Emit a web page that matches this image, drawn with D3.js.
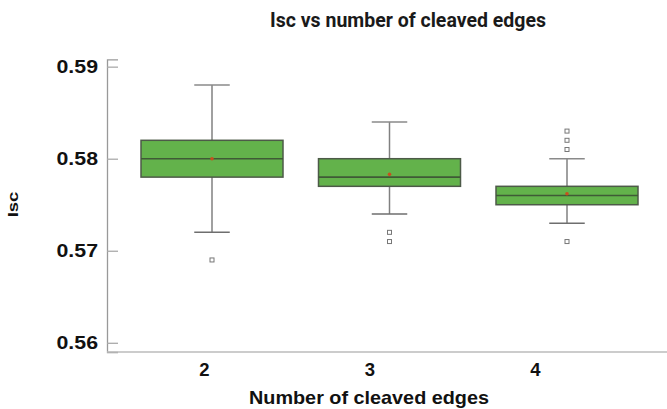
<!DOCTYPE html>
<html><head><meta charset="utf-8">
<script src="https://cdn.jsdelivr.net/npm/d3@7"></script>
<style>body{margin:0;background:#fff;} svg{display:block;}</style>
</head><body>
<svg id="c" width="667" height="409"></svg>
<script>
const categories = [2, 3, 4];
const q1 = [0.578, 0.577, 0.575];
const medians = [0.580, 0.578, 0.576];
const q3 = [0.582, 0.580, 0.577];
const whiskerLow = [0.572, 0.574, 0.573];
const whiskerHigh = [0.588, 0.584, 0.580];
const means = [0.580, 0.5783, 0.5762];
const outliers = [[0.569], [0.572, 0.571], [0.583, 0.582, 0.581, 0.571]];
const yTicks = [0.56, 0.57, 0.58, 0.59];

const svg = d3.select("#c");
const font = "'Liberation Sans', Arial, sans-serif";

const y = d3.scaleLinear().domain([0.559, 0.5908]).range([352, 59.3]);
const x = d3.scaleLinear().domain([2, 4]).range([212, 567]);
const xLab = d3.scaleLinear().domain([2, 4]).range([204, 535]);
const step = x(3) - x(2);
const boxW = step * 0.8, capW = step * 0.2;

// axes
const yAxis = d3.axisLeft(y).tickValues(yTicks).tickSize(-11).tickPadding(9).tickFormat(d3.format(".2f"));
const gy = svg.append("g").attr("transform", "translate(107,0)").call(yAxis);
gy.select(".domain").attr("stroke", "#999").attr("stroke-width", 1.3);
gy.selectAll(".tick line").attr("stroke", "#aaa").attr("stroke-width", 1.3);
gy.selectAll("text").attr("font-family", font).attr("font-size", 18.5).attr("font-weight", "bold").attr("fill", "#111")
  .attr("textLength", 41.5).attr("lengthAdjust", "spacingAndGlyphs");

svg.append("line").attr("x1", 107).attr("x2", 667).attr("y1", y(0.559)).attr("y2", y(0.559))
  .attr("stroke", "#bbb").attr("stroke-width", 1.5);

const xAxis = d3.axisBottom(xLab).tickValues(categories).tickSize(0).tickPadding(11).tickFormat(d3.format("d"));
const gx = svg.append("g").attr("transform", "translate(0,352)").call(xAxis);
gx.select(".domain").remove();
gx.selectAll("text").attr("font-family", font).attr("font-size", 18.5).attr("font-weight", "bold").attr("fill", "#111");

// boxes
const data = categories.map((c, i) => ({c, q1: q1[i], med: medians[i], q3: q3[i], lo: whiskerLow[i], hi: whiskerHigh[i], mean: means[i], out: outliers[i]}));
const g = svg.append("g");
data.forEach(d => {
  const cx = x(d.c);
  g.append("line").attr("x1", cx).attr("x2", cx).attr("y1", y(d.hi)).attr("y2", y(d.lo)).attr("stroke", "#808080").attr("stroke-width", 1.5);
  g.append("line").attr("x1", cx - capW/2).attr("x2", cx + capW/2).attr("y1", y(d.hi)).attr("y2", y(d.hi)).attr("stroke", "#8a8a8a").attr("stroke-width", 1.5);
  g.append("line").attr("x1", cx - capW/2).attr("x2", cx + capW/2).attr("y1", y(d.lo)).attr("y2", y(d.lo)).attr("stroke", "#6e6e6e").attr("stroke-width", 1.5);
  g.append("rect").attr("x", cx - boxW/2).attr("width", boxW).attr("y", y(d.q3)).attr("height", y(d.q1) - y(d.q3))
    .attr("fill", "#63b24b").attr("stroke", "#4d5a48").attr("stroke-width", 1.5);
  g.append("line").attr("x1", cx - boxW/2).attr("x2", cx + boxW/2).attr("y1", y(d.med)).attr("y2", y(d.med)).attr("stroke", "#3f5a36").attr("stroke-width", 1.6);
  g.append("circle").attr("cx", cx).attr("cy", y(d.mean)).attr("r", 1.8).attr("fill", "#c8501e");
  d.out.forEach(o => {
    g.append("rect").attr("x", cx - 2).attr("y", y(o) - 2).attr("width", 4).attr("height", 4)
      .attr("fill", "#fff").attr("stroke", "#777").attr("stroke-width", 1);
  });
});

// titles
svg.append("text").attr("x", 408).attr("y", 27).attr("text-anchor", "middle")
  .attr("font-family", "Roboto, sans-serif").attr("font-weight", "bold").attr("font-size", 19.5).attr("fill", "#1a1a1a")
  .text("Isc vs number of cleaved edges");
svg.append("text").attr("x", 369).attr("y", 404).attr("text-anchor", "middle")
  .attr("font-family", font).attr("font-weight", "bold").attr("font-size", 18.5).attr("fill", "#111")
  .attr("textLength", 240).attr("lengthAdjust", "spacingAndGlyphs")
  .text("Number of cleaved edges");
svg.append("text").attr("transform", "translate(18,204.5) rotate(-90)").attr("text-anchor", "middle")
  .attr("font-family", font).attr("font-weight", "bold").attr("font-size", 14).attr("fill", "#111")
  .attr("textLength", 25.6).attr("lengthAdjust", "spacingAndGlyphs")
  .text("Isc");
</script>
</body></html>
